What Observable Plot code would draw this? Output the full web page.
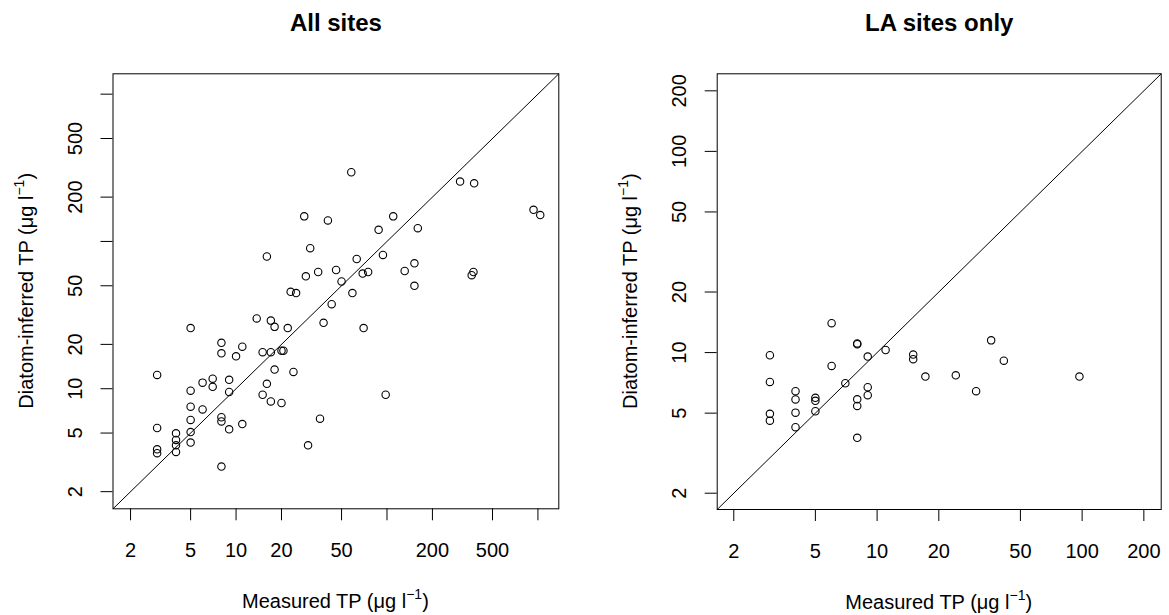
<!DOCTYPE html>
<html>
<head>
<meta charset="utf-8">
<script src="https://cdn.jsdelivr.net/npm/d3@7"></script>
<script src="https://cdn.jsdelivr.net/npm/@observablehq/plot@0.6"></script>
<style>
  html, body { margin: 0; padding: 0; background: #fff; }
  #wrap { position: relative; width: 1169px; height: 615px; overflow: hidden; }
  #left, #right { position: absolute; top: 0; }
  #left { left: 0; }
  #right { left: 600px; }
</style>
</head>
<body>
<div id="wrap"><div id="left"></div><div id="right"></div></div>
<script>
// ---- Data: All sites ----
const allMeasured = [58, 305, 378, 935, 1036, 28.3, 40.6, 110, 160, 88, 31, 16, 94, 63, 152, 131, 46, 35, 29, 69, 75, 364, 374, 50, 152, 23, 25, 59, 43, 13.7, 17, 18, 22, 38, 70, 5, 8, 8, 11, 10, 15, 17, 20, 20.6, 18, 24, 3, 7, 6, 9, 7, 16, 5, 9, 98, 15, 17, 20, 5, 6, 5, 8, 8, 36, 3, 11, 9, 5, 4, 4, 4, 5, 4, 3, 3, 30, 8];
const allInferred = [295, 255, 248, 164, 151, 148, 139, 148, 123, 120, 90, 79, 81, 76, 71, 63, 64, 62, 58, 60.5, 62, 59, 62, 53.5, 50, 45.5, 44.6, 44.6, 37.5, 30, 29, 26.3, 25.8, 28, 25.8, 25.8, 20.5, 17.4, 19.3, 16.6, 17.7, 17.7, 18.1, 18.1, 13.5, 13, 12.4, 11.7, 11, 11.5, 10.3, 10.8, 9.7, 9.5, 9.1, 9.1, 8.2, 8, 7.55, 7.24, 6.14, 6.4, 6.0, 6.26, 5.41, 5.75, 5.3, 5.08, 4.98, 4.49, 4.13, 4.31, 3.72, 3.88, 3.65, 4.13, 2.96];

// ---- Data: LA sites only ----
const laMeasured = [6, 8, 8, 36, 3, 11, 9, 15, 15, 41.5, 6, 17.2, 24.2, 97, 3, 7, 9, 30.4, 4, 9, 4, 5, 5, 8, 8, 3, 3, 4, 5, 4, 8];
const laInferred = [14, 11.1, 11.0, 11.5, 9.7, 10.3, 9.55, 9.77, 9.27, 9.12, 8.58, 7.6, 7.71, 7.6, 7.15, 7.04, 6.73, 6.43, 6.43, 6.14, 5.85, 5.96, 5.76, 5.86, 5.43, 4.96, 4.59, 5.03, 5.11, 4.26, 3.77];

// ---- Axis ticks and labels ----
const allTicks = [2, 5, 10, 20, 50, 100, 200, 500, 1000];
const allTickLabels = [2, 5, 10, 20, 50, 200, 500];
const laTicks = [2, 5, 10, 20, 50, 100, 200];
const laTickLabels = [2, 5, 10, 20, 50, 100, 200];

const allDomain = [1.53, 1375];
const laDomain = [1.66, 243];

const titles = ["All sites", "LA sites only"];
const xTitle = "Measured TP (\u03bcg l";
const yTitle = "Diatom-inferred TP (\u03bcg l";
const supText = "\u22121";

function panel({measured, inferred, ticks, labels, domain, title, width, margins}) {
  const pts = measured.map((m, i) => ({m, v: inferred[i]}));
  const svg = Plot.plot({
    width, height: 615,
    marginLeft: margins.left, marginRight: margins.right,
    marginTop: margins.top, marginBottom: margins.bottom,
    style: {fontFamily: "'Liberation Sans', Arial, sans-serif", fontSize: "20px", color: "black", background: "white"},
    x: {type: "log", domain},
    y: {type: "log", domain},
    marks: [
      Plot.frame({stroke: "black", strokeWidth: 1}),
      Plot.link([domain], {x1: d => d[0], y1: d => d[0], x2: d => d[1], y2: d => d[1], stroke: "black", strokeWidth: 1}),
      Plot.dot(pts, {x: "m", y: "v", r: 3.7, stroke: "black", fill: "none", strokeWidth: 1.1}),
      Plot.axisX(ticks, {tickSize: 12, tickFormat: () => "", label: null, stroke: "black"}),
      Plot.axisY(ticks, {tickSize: 12, tickFormat: () => "", label: null, stroke: "black"}),
      Plot.text(labels, {x: d => d, text: d => String(d), frameAnchor: "bottom", dy: 34.4, lineAnchor: "top", fill: "black", fontSize: 20}),
      Plot.text(labels, {y: d => d, text: d => String(d), frameAnchor: "left", dx: -31.5, rotate: -90, textAnchor: "middle", lineAnchor: "bottom", fill: "black", fontSize: 20}),
      Plot.text([title], {frameAnchor: "top", dy: -42.6, lineAnchor: "bottom", fontWeight: "bold", fontSize: 24, fill: "black"})
    ]
  });
  const s = d3.select(svg);
  const fl = margins.left, fr = width - margins.right, ft = margins.top, fb = 615 - margins.bottom;
  const cx = (fl + fr) / 2, cy = (ft + fb) / 2;
  const xt = s.append("text").attr("x", cx).attr("y", fb + 100).attr("text-anchor", "middle").attr("fill", "black").style("font-size", "20px");
  xt.append("tspan").text(xTitle);
  xt.append("tspan").attr("dy", -9).style("font-size", "14px").text(supText);
  xt.append("tspan").attr("dy", 9).text(")");
  const yt = s.append("text").attr("transform", `translate(${fl - 79.5},${cy}) rotate(-90)`).attr("text-anchor", "middle").attr("fill", "black").style("font-size", "20px");
  yt.append("tspan").text(yTitle);
  yt.append("tspan").attr("dy", -9).style("font-size", "14px").text(supText);
  yt.append("tspan").attr("dy", 9).text(")");
  return svg;
}

document.getElementById("left").appendChild(panel({
  measured: allMeasured, inferred: allInferred, ticks: allTicks, labels: allTickLabels,
  domain: allDomain, title: titles[0], width: 600,
  margins: {left: 112.5, right: 41.7, top: 73.3, bottom: 106.7}
}));
document.getElementById("right").appendChild(panel({
  measured: laMeasured, inferred: laInferred, ticks: laTicks, labels: laTickLabels,
  domain: laDomain, title: titles[1], width: 569,
  margins: {left: 116.7, right: 8.3, top: 73.3, bottom: 106}
}));
</script>
</body>
</html>
